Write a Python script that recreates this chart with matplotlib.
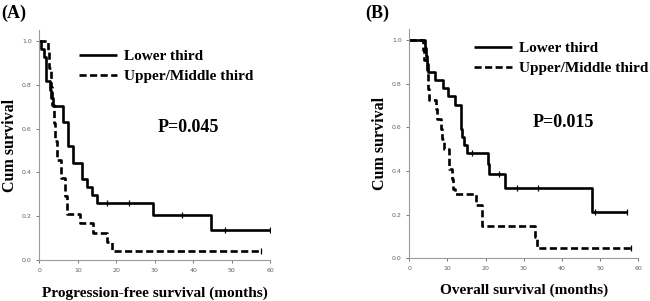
import numpy as np
import matplotlib.pyplot as plt

# Panel A: progression-free survival
pfs_lower_t = [0, 0.5, 1.3, 1.7, 1.8, 2.8, 3.1, 3.6, 6.2, 7.4, 8.7, 11.0, 12.3, 13.6, 14.9, 29.6, 44.5, 60]
pfs_lower_s = [1.0, 0.963, 0.926, 0.889, 0.815, 0.778, 0.741, 0.704, 0.630, 0.519, 0.444, 0.370, 0.333, 0.296, 0.259, 0.207, 0.138, 0.138]
pfs_lower_cens = [17.7, 23.4, 37.0, 48.2, 60]

pfs_upper_t = [0, 2.2, 2.5, 3.0, 3.3, 3.8, 4.2, 4.6, 5.6, 6.6, 7.2, 10.6, 14.0, 17.7, 19.0, 57.7]
pfs_upper_s = [1.0, 0.958, 0.875, 0.792, 0.708, 0.625, 0.542, 0.458, 0.375, 0.292, 0.208, 0.167, 0.125, 0.083, 0.042, 0.042]
pfs_upper_cens = [57.7]

# Panel B: overall survival
os_lower_t = [0, 4.1, 4.4, 4.7, 5.0, 6.7, 8.9, 10.2, 12.0, 13.5, 13.7, 14.3, 15.0, 20.5, 20.8, 25.1, 47.8, 57.0]
os_lower_s = [1.0, 0.963, 0.926, 0.889, 0.852, 0.815, 0.778, 0.741, 0.704, 0.593, 0.556, 0.519, 0.481, 0.430, 0.385, 0.320, 0.213, 0.213]
os_lower_cens = [16.3, 23.5, 28.1, 33.8, 48.6, 57.0]

os_upper_t = [0, 3.7, 3.9, 4.6, 4.8, 5.0, 5.2, 7.0, 7.2, 8.3, 8.6, 9.0, 10.3, 10.5, 11.2, 11.5, 12.0, 17.6, 19.1, 32.9, 33.4, 58.0]
os_upper_s = [1.0, 0.955, 0.909, 0.864, 0.818, 0.773, 0.727, 0.682, 0.636, 0.591, 0.545, 0.500, 0.455, 0.409, 0.364, 0.318, 0.295, 0.245, 0.147, 0.098, 0.049, 0.049]
os_upper_cens = [58.0]

labels = ['Lower third', 'Upper/Middle third']
serif = 'Liberation Serif'
grey = '#9a9a9a'


def km_step(ax, t, s, cens, ls, label):
    line, = ax.step(t, s, where='post', color='black', lw=1.9, ls=ls,
                    label=label, solid_capstyle='butt', dash_capstyle='butt')
    if ls == '--':
        line.set_dashes((2.7, 1.3))
    t = np.asarray(t)
    s = np.asarray(s)
    for c in cens:
        idx = np.searchsorted(t, c, side='right') - 1
        ax.plot([c], [s[idx]], marker='|', ms=4, mew=0.9, color='black', ls='None')


def setup_axes(ax, xlabel, pval, ppos, legpos, xpad):
    ax.set_xlim(0, 60)
    ax.set_ylim(0, 1.05)
    ax.set_xticks(np.arange(0, 61, 10))
    ax.set_yticks(np.arange(0, 1.01, 0.2))
    ax.set_yticklabels(['0.0', '0.2', '0.4', '0.6', '0.8', '1.0'])
    for sp in ['top', 'right']:
        ax.spines[sp].set_visible(False)
    for sp in ['left', 'bottom']:
        ax.spines[sp].set_color(grey)
        ax.spines[sp].set_linewidth(0.8)
    ax.tick_params(colors='#606060', labelsize=4.5, length=2.5, width=0.6, pad=3)
    ax.set_ylabel('Cum survival', family=serif, weight='bold', fontsize=11.5, labelpad=3)
    ax.set_xlabel(xlabel, family=serif, weight='bold', fontsize=11, labelpad=xpad)
    ax.text(ppos[0], ppos[1], pval, transform=ax.transAxes, family=serif,
            weight='bold', fontsize=13, ha='center', va='center')
    ax.legend(loc='upper left', bbox_to_anchor=legpos, frameon=False,
              borderaxespad=0, borderpad=0,
              prop={'family': serif, 'weight': 'bold', 'size': 11},
              handlelength=2.5, handletextpad=0.45, labelspacing=0.4)


fig = plt.figure(figsize=(6.5, 3.01), dpi=100)
fig.patch.set_facecolor('white')

W, H = 650.0, 301.0
axA = fig.add_axes([39.3 / W, 1 - 260 / H, 231 / W, 230 / H])
km_step(axA, pfs_lower_t, pfs_lower_s, pfs_lower_cens, '-', labels[0])
km_step(axA, pfs_upper_t, pfs_upper_s, pfs_upper_cens, '--', labels[1])
setup_axes(axA, 'Progression-free survival (months)', 'P=0.045',
           (0.644, 0.577), (0.172, 0.915), 10)

axB = fig.add_axes([409.3 / W, 1 - 258.3 / H, 229 / W, 229.3 / H])
km_step(axB, os_lower_t, os_lower_s, os_lower_cens, '-', labels[0])
km_step(axB, os_upper_t, os_upper_s, os_upper_cens, '--', labels[1])
setup_axes(axB, 'Overall survival (months)', 'P=0.015',
           (0.671, 0.593), (0.283, 0.946), 9)

fig.text(1 / W, 1 - 13 / H, '(A)', family=serif, weight='bold', fontsize=13, va='center')
fig.text(365 / W, 1 - 13 / H, '(B)', family=serif, weight='bold', fontsize=13, va='center')

fig.savefig('out.png', dpi=100)
